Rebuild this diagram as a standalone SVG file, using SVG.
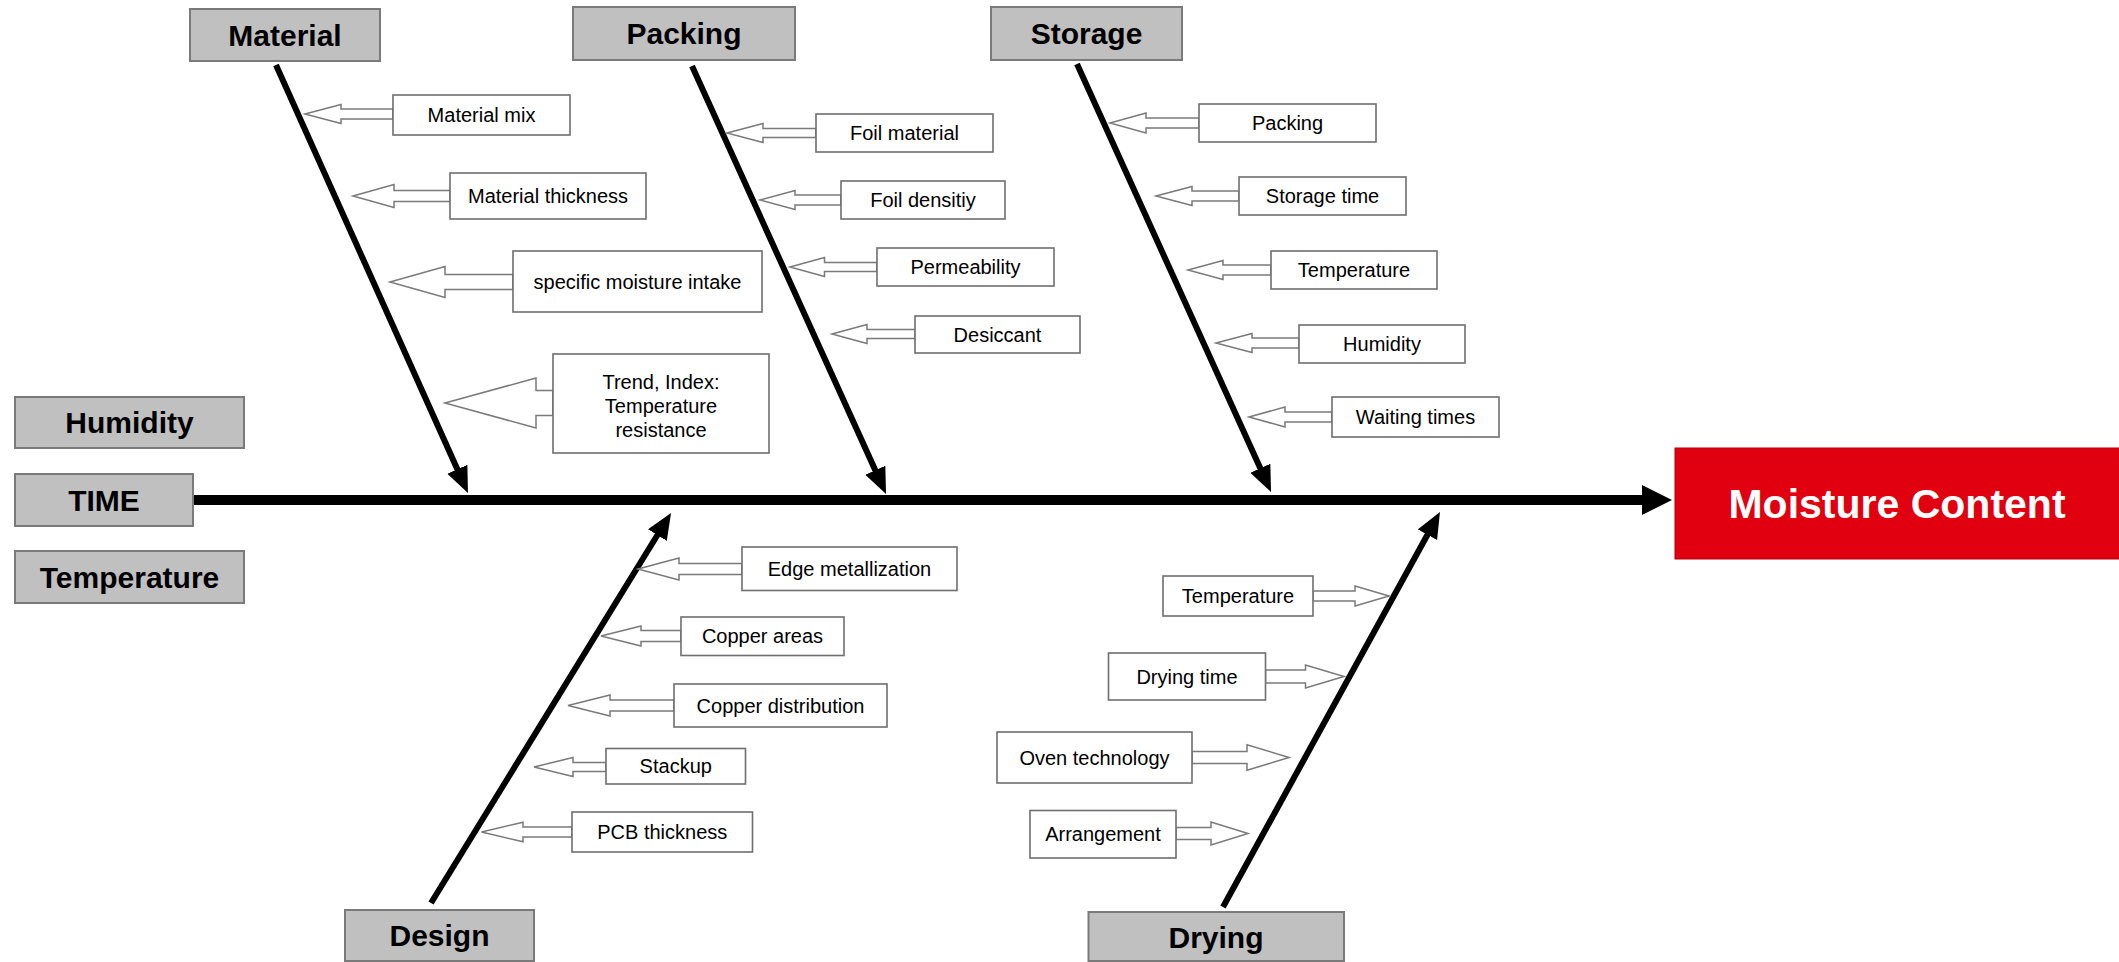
<svg xmlns="http://www.w3.org/2000/svg" width="2119" height="962" viewBox="0 0 2119 962">
<style>
.cat rect{fill:#c0c0c0;stroke:#7a7a7a;stroke-width:2}
.cat text{font-family:"Liberation Sans",Arial,sans-serif;font-weight:bold;font-size:30px;fill:#000;text-anchor:middle}
.sub rect{fill:#fff;stroke:#6e6e6e;stroke-width:1.6}
.sub text{font-family:"Liberation Sans",Arial,sans-serif;font-size:20px;fill:#000;text-anchor:middle}
.blk{fill:#fff;stroke:#7a7a7a;stroke-width:1.5;stroke-linejoin:miter}
.bone{stroke:#000;stroke-width:6;fill:none;marker-end:url(#ah)}
.spine{stroke:#000;stroke-width:10;fill:none;marker-end:url(#ahs)}
</style>
<defs>
<marker id="ah" markerUnits="userSpaceOnUse" markerWidth="28" markerHeight="24" refX="8" refY="11" orient="auto" viewBox="0 0 28 24"><path d="M0,0 L26,11 L0,22 z" fill="#000"/></marker>
<marker id="ahs" markerUnits="userSpaceOnUse" markerWidth="32" markerHeight="32" refX="8" refY="15" orient="auto" viewBox="0 0 32 32"><path d="M0,0 L30,15 L0,30 z" fill="#000"/></marker>
</defs>
<rect width="2119" height="962" fill="#fff"/>

<g id="connectors">
<line class="spine" x1="193" y1="500" x2="1650" y2="500"/>
<line class="bone" x1="276" y1="65" x2="460.6" y2="476.6"/>
<line class="bone" x1="692" y1="66" x2="878.6" y2="477.6"/>
<line class="bone" x1="1077" y1="64" x2="1263.6" y2="475.6"/>
<line class="bone" x1="431" y1="903" x2="661.6" y2="528.3"/>
<line class="bone" x1="1223" y1="907" x2="1431.3" y2="527.8"/>
<!-- Material -->
<polygon class="blk" points="305,114 341,104.5 341,109 393,109 393,119 341,119 341,123.5"/>
<polygon class="blk" points="353,196 394,184.5 394,190.5 450,190.5 450,201.5 394,201.5 394,207.5"/>
<polygon class="blk" points="390,282 445,266.5 445,274.5 513,274.5 513,289.5 445,289.5 445,297.5"/>
<polygon class="blk" points="445,403 536,378 536,390.5 553,390.5 553,415.5 536,415.5 536,428"/>
<!-- Packing -->
<polygon class="blk" points="727,133 763,123.5 763,128.5 816,128.5 816,137.5 763,137.5 763,142.5"/>
<polygon class="blk" points="760,200 795,190.5 795,195 841,195 841,205 795,205 795,209.5"/>
<polygon class="blk" points="790,267 824.5,257.5 824.5,262.5 877,262.5 877,271.5 824.5,271.5 824.5,276.5"/>
<polygon class="blk" points="832,334 867,324.5 867,329.5 915,329.5 915,338.5 867,338.5 867,343.5"/>
<!-- Storage -->
<polygon class="blk" points="1110,123 1146,113 1146,118 1199,118 1199,128 1146,128 1146,133"/>
<polygon class="blk" points="1156,196 1192,186.5 1192,191 1239,191 1239,201 1192,201 1192,205.5"/>
<polygon class="blk" points="1188,270 1223,260.5 1223,265 1271,265 1271,275 1223,275 1223,279.5"/>
<polygon class="blk" points="1216,343 1252,333.5 1252,338 1299,338 1299,348 1252,348 1252,352.5"/>
<polygon class="blk" points="1249,417 1285,407 1285,412 1332,412 1332,422 1285,422 1285,427"/>
<!-- Design -->
<polygon class="blk" points="638,569 679,558 679,563.5 742,563.5 742,574.5 679,574.5 679,580"/>
<polygon class="blk" points="601,636 641,626 641,630.5 681,630.5 681,641.5 641,641.5 641,646"/>
<polygon class="blk" points="568,705.5 610,695 610,700 674,700 674,711 610,711 610,716"/>
<polygon class="blk" points="534,767 573,757.5 573,762.5 606,762.5 606,771.5 573,771.5 573,776.5"/>
<polygon class="blk" points="481.5,832 523,822.25 523,827 572,827 572,837 523,837 523,841.75"/>
<!-- Drying -->
<polygon class="blk" points="1389,596 1355,586 1355,591 1313,591 1313,601 1355,601 1355,606"/>
<polygon class="blk" points="1344,676.5 1305.5,665 1305.5,670 1265.5,670 1265.5,683 1305.5,683 1305.5,688"/>
<polygon class="blk" points="1289,757.5 1247,744.75 1247,751.5 1192,751.5 1192,763.5 1247,763.5 1247,770.25"/>
<polygon class="blk" points="1248,833.5 1211,822 1211,827.5 1176,827.5 1176,839.5 1211,839.5 1211,845"/>
</g>

<g id="effect">
<rect x="1675" y="448" width="446" height="111" fill="#e1000f" stroke="#b0000a" stroke-width="1"/>
<text x="1897" y="518" font-family="'Liberation Sans',Arial,sans-serif" font-weight="bold" font-size="41" fill="#fff" text-anchor="middle">Moisture Content</text>
</g>

<g id="cat-material" class="cat"><rect x="190" y="9" width="190" height="52"/><text x="285" y="45.5">Material</text></g>
<g id="cat-packing" class="cat"><rect x="573" y="7" width="222" height="53"/><text x="684" y="44">Packing</text></g>
<g id="cat-storage" class="cat"><rect x="991" y="7" width="191" height="53"/><text x="1086.5" y="44">Storage</text></g>
<g id="cat-design" class="cat"><rect x="345" y="910" width="189" height="51"/><text x="439.5" y="946">Design</text></g>
<g id="cat-drying" class="cat"><rect x="1088.5" y="912" width="255.5" height="49"/><text x="1216" y="947.5">Drying</text></g>
<g id="cat-humidity" class="cat"><rect x="15" y="397" width="229" height="51"/><text x="129.5" y="432.5">Humidity</text></g>
<g id="cat-time" class="cat"><rect x="15" y="474" width="178" height="52"/><text x="104" y="510.5">TIME</text></g>
<g id="cat-temperature" class="cat"><rect x="15" y="551" width="229" height="52"/><text x="129.5" y="587.5">Temperature</text></g>

<g id="m-mix" class="sub"><rect x="393" y="95" width="177" height="40"/><text x="481.5" y="122">Material mix</text></g>
<g id="m-thick" class="sub"><rect x="450" y="173" width="196" height="46"/><text x="548" y="203">Material thickness</text></g>
<g id="m-intake" class="sub"><rect x="513" y="251" width="249" height="61"/><text x="637.5" y="288.5">specific moisture intake</text></g>
<g id="m-trend" class="sub"><rect x="553" y="354" width="216" height="99"/><text x="661" y="389">Trend, Index:</text><text x="661" y="413">Temperature</text><text x="661" y="437">resistance</text></g>

<g id="p-foil" class="sub"><rect x="816" y="114" width="177" height="38"/><text x="904.5" y="140">Foil material</text></g>
<g id="p-dens" class="sub"><rect x="841" y="181" width="164" height="38"/><text x="923" y="207">Foil densitiy</text></g>
<g id="p-perm" class="sub"><rect x="877" y="248" width="177" height="38"/><text x="965.5" y="274">Permeability</text></g>
<g id="p-desic" class="sub"><rect x="915" y="316" width="165" height="37"/><text x="997.5" y="341.5">Desiccant</text></g>

<g id="s-packing" class="sub"><rect x="1199" y="104" width="177" height="38"/><text x="1287.5" y="130">Packing</text></g>
<g id="s-time" class="sub"><rect x="1239" y="177" width="167" height="38"/><text x="1322.5" y="203">Storage time</text></g>
<g id="s-temp" class="sub"><rect x="1271" y="251" width="166" height="38"/><text x="1354" y="277">Temperature</text></g>
<g id="s-hum" class="sub"><rect x="1299" y="325" width="166" height="38"/><text x="1382" y="351">Humidity</text></g>
<g id="s-wait" class="sub"><rect x="1332" y="397" width="167" height="40"/><text x="1415.5" y="424">Waiting times</text></g>

<g id="d-edge" class="sub"><rect x="742" y="547" width="215" height="43.5"/><text x="849.5" y="576">Edge metallization</text></g>
<g id="d-areas" class="sub"><rect x="681" y="617" width="163" height="38.5"/><text x="762.5" y="643">Copper areas</text></g>
<g id="d-dist" class="sub"><rect x="674" y="684" width="213" height="43"/><text x="780.5" y="712.5">Copper distribution</text></g>
<g id="d-stack" class="sub"><rect x="606" y="748.5" width="139.5" height="35.5"/><text x="675.75" y="773">Stackup</text></g>
<g id="d-pcb" class="sub"><rect x="572" y="812" width="180.5" height="40"/><text x="662.25" y="839">PCB thickness</text></g>

<g id="r-temp" class="sub"><rect x="1163" y="576" width="150" height="40"/><text x="1238" y="603">Temperature</text></g>
<g id="r-time" class="sub"><rect x="1108.5" y="653" width="157" height="47"/><text x="1187" y="683.5">Drying time</text></g>
<g id="r-oven" class="sub"><rect x="997" y="732" width="195" height="51"/><text x="1094.5" y="764.5">Oven technology</text></g>
<g id="r-arr" class="sub"><rect x="1030" y="810.5" width="146" height="47.5"/><text x="1103" y="841">Arrangement</text></g>
</svg>
